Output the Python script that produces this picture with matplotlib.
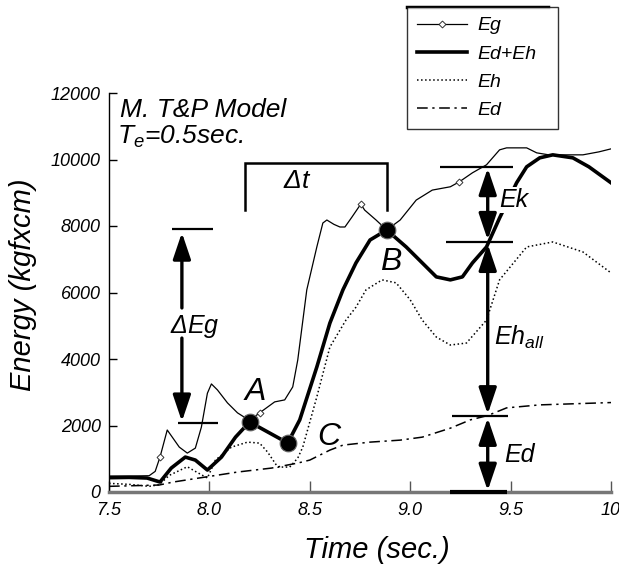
import matplotlib
matplotlib.use("Agg")
import matplotlib.pyplot as plt
from matplotlib.lines import Line2D

plt.rcParams['font.family'] = ['Liberation Sans', 'DejaVu Sans']
plt.rcParams['font.style'] = 'italic'
plt.rcParams['mathtext.fontset'] = 'custom'
plt.rcParams['mathtext.rm'] = 'Liberation Sans'
plt.rcParams['mathtext.it'] = 'Liberation Sans:italic'

# --- curves (time in s, energy in kgf*cm) ---
t_eg = [7.50, 7.60, 7.70, 7.73, 7.754, 7.79, 7.85, 7.89, 7.93, 7.96, 7.99, 8.01,
        8.04, 8.09, 8.14, 8.20, 8.25, 8.325, 8.375, 8.415, 8.44, 8.485, 8.535,
        8.565, 8.585, 8.62, 8.65, 8.675, 8.71, 8.754, 8.773, 8.83, 8.883, 8.95,
        9.03, 9.11, 9.20, 9.245, 9.31, 9.38, 9.445, 9.48, 9.58, 9.63, 9.69, 9.78,
        9.86, 9.94, 10.0]
e_g = [480, 480, 490, 620, 1050, 1865, 1350, 1170, 1320, 1950, 2970, 3250,
       3070, 2680, 2380, 2150, 2380, 2710, 2770, 3160, 3970, 6080, 7370,
       8090, 8180, 8050, 7970, 7970, 8270, 8660, 8480, 8180, 7880, 8180,
       8780, 9080, 9180, 9330, 9600, 9840, 10290, 10350, 10350, 10200, 10140, 10140,
       10140, 10230, 10320]
eg_marks = [4, 16, 29, 37]

t_dh = [7.50, 7.60, 7.69, 7.754, 7.81, 7.88, 7.93, 7.99, 8.06, 8.13, 8.20, 8.39,
        8.45, 8.535, 8.60, 8.665, 8.73, 8.80, 8.883, 8.98, 9.06, 9.13, 9.20, 9.26,
        9.31, 9.38, 9.445, 9.53, 9.58, 9.645, 9.71, 9.81, 9.89, 10.0]
e_dh = [430, 440, 420, 300, 720, 1050, 960, 660, 1050, 1650, 2106, 1474,
        2170, 3760, 5080, 6080, 6890, 7580, 7880, 7370, 6890, 6470, 6380, 6470,
        6890, 7370, 8240, 9300, 9780, 10050, 10140, 10050, 9780, 9300]

t_eh = [7.50, 7.60, 7.70, 7.75, 7.80, 7.89, 7.93, 7.99, 8.03, 8.11, 8.19, 8.25,
        8.29, 8.34, 8.40, 8.44, 8.465, 8.535, 8.60, 8.68, 8.73, 8.78, 8.86, 8.93,
        9.00, 9.06, 9.13, 9.20, 9.28, 9.38, 9.445, 9.58, 9.71, 9.86, 10.0]
e_h = [260, 230, 170, 220, 500, 760, 620, 420, 960, 1350, 1500, 1470,
       1200, 750, 750, 1020, 1350, 2860, 4360, 5170, 5560, 6080, 6380, 6290,
       5780, 5170, 4660, 4420, 4480, 5170, 6380, 7370, 7520, 7220, 6590]

t_ed = [7.50, 7.75, 7.82, 7.98, 8.14, 8.31, 8.44, 8.50, 8.60, 8.665, 8.80, 8.95,
        9.06, 9.20, 9.30, 9.386, 9.48, 9.645, 10.0]
e_d = [170, 210, 300, 450, 600, 720, 870, 960, 1260, 1410, 1500, 1560,
       1650, 1920, 2170, 2300, 2530, 2620, 2690]

# key points A, C, B on Ed+Eh
key_t = [8.20, 8.39, 8.883]
key_e = [2106, 1474, 7880]

fig = plt.figure(figsize=(6.19, 5.64), dpi=100)
ax = fig.add_axes([109 / 619, 72 / 564, 502 / 619, 399 / 564])

l_eg, = ax.plot(t_eg, e_g, '-', color='black', lw=0.9, marker='D', ms=3.5,
                mfc='white', mec='#333333', mew=0.7, markevery=eg_marks, label='Eg')
l_dh, = ax.plot(t_dh, e_dh, '-', color='black', lw=2.6, label='Ed+Eh')
l_eh, = ax.plot(t_eh, e_h, ':', color='black', lw=1.1, label='Eh')
l_ed, = ax.plot(t_ed, e_d, color='black', lw=1.1, dashes=(7, 3, 1.5, 3), label='Ed')
ax.plot(key_t, key_e, 'o', color='black', ms=12, mec='#666666', mew=0.8, zorder=5)

# reference bars
bar_y = [7911, 2075, 9776, 7520, 2286, 0]
bar_x0 = [7.813, 7.843, 9.147, 9.18, 9.206, 9.197]
bar_x1 = [8.017, 8.042, 9.51, 9.51, 9.485, 9.48]
ax.hlines(bar_y[:5], bar_x0[:5], bar_x1[:5], colors='black', lw=1.6, zorder=4)
ax.hlines(bar_y[5], bar_x0[5], bar_x1[5], colors='black', lw=3, zorder=6, clip_on=False)

# delta t bracket
ax.plot([8.177, 8.177, 8.883, 8.883], [8480, 9897, 9897, 8480], color='black', lw=1.8,
        solid_joinstyle='miter')

head = dict(color='black', lw=2.4, mutation_scale=20, shrinkA=0, shrinkB=0)
ax.annotate('', xy=(7.863, 7800), xytext=(7.863, 5535),
            arrowprops=dict(arrowstyle='-|>,head_length=0.8,head_width=0.27', **head))
ax.annotate('', xy=(7.863, 2120), xytext=(7.863, 4630),
            arrowprops=dict(arrowstyle='-|>,head_length=0.8,head_width=0.27', **head))
for y0, y1 in [(9740, 7580), (7460, 2340), (2230, 40)]:
    ax.annotate('', xy=(9.386, y1), xytext=(9.386, y0),
                arrowprops=dict(arrowstyle='<|-|>,head_length=0.8,head_width=0.27', **head))

ax.text(7.555, 11280, 'M. T&P Model', fontsize=19, va='baseline')
ax.text(7.54, 10470, 'T$_e$=0.5sec.', fontsize=19, va='baseline')
ax.text(7.928, 4990, r'$\Delta$Eg', fontsize=18, ha='center', va='center')
ax.text(8.435, 9355, r'$\Delta$t', fontsize=19, ha='center', va='center')
ax.text(8.226, 3008, 'A', fontsize=23, ha='center', va='center')
ax.text(8.903, 6918, 'B', fontsize=23, ha='center', va='center')
ax.text(8.595, 1654, 'C', fontsize=23, ha='center', va='center')
ax.text(9.445, 8783, 'Ek', fontsize=18, ha='left', va='center', zorder=7,
        bbox=dict(facecolor='white', edgecolor='none', pad=0.5))
ax.text(9.415, 4420, 'Eh$_{all}$', fontsize=18, ha='left', va='baseline')
ax.text(9.47, 900, 'Ed', fontsize=18, ha='left', va='baseline')

ax.set_xlim(7.5, 10)
ax.set_ylim(0, 12000)
ax.set_xticks([7.5, 8.0, 8.5, 9.0, 9.5, 10])
ax.set_xticklabels(['7.5', '8.0', '8.5', '9.0', '9.5', '10'])
ax.set_yticks(range(0, 12001, 2000))
ax.tick_params(axis='y', direction='in', length=6, width=1, pad=6, labelsize=13)
ax.tick_params(axis='x', direction='in', length=8, width=1, pad=7, labelsize=13,
               color='#555555')
ax.spines['top'].set_visible(False)
ax.spines['right'].set_visible(False)
ax.spines['left'].set_linewidth(1.0)
ax.spines['bottom'].set_color('#777777')
ax.spines['bottom'].set_linewidth(2.5)

ax.set_ylabel('Energy (kgfxcm)', fontsize=21)
ax.yaxis.set_label_coords(-0.143, 0.52)
ax.set_xlabel('Time (sec.)', fontsize=21)
ax.xaxis.set_label_coords(0.534, -0.11)

leg = fig.legend(handles=[l_eg, l_dh, l_eh, l_ed], loc='upper left',
                 bbox_to_anchor=(407 / 619, 1 - 140 / 564, 151 / 619, 133 / 564),
                 mode='expand', frameon=True, fancybox=False, edgecolor='black',
                 fontsize=14, handlelength=2.6, handletextpad=0.5, labelspacing=0.55,
                 borderpad=0.5, borderaxespad=0)
leg.get_frame().set_linewidth(1.0)
fig.add_artist(Line2D([407 / 619, 548 / 619], [1 - 7 / 564, 1 - 7 / 564],
                      transform=fig.transFigure, color='black', lw=2.5))

fig.savefig('out.png', dpi=100)
